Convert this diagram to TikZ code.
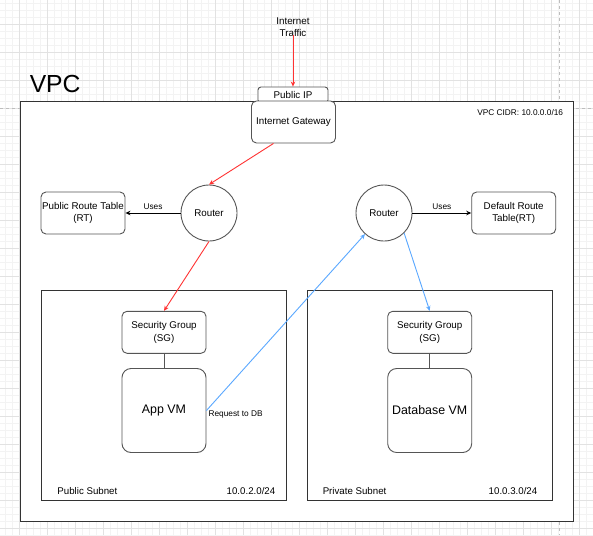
\documentclass[tikz,border=0pt]{standalone}
\usepackage{fontspec}
\setmainfont{Liberation Sans}
\usetikzlibrary{positioning, arrows.meta}

\definecolor{netred}{HTML}{FF3333}
\definecolor{netblue}{HTML}{5AA8FF}
\definecolor{boxgray}{HTML}{555555}
\definecolor{framegray}{HTML}{333333}
\definecolor{gridminor}{HTML}{F3F3F3}
\definecolor{gridmajor}{HTML}{E2E2E2}
\definecolor{pagebreak}{HTML}{BDBDBD}

\newcommand{\fsz}[1]{\fontsize{#1}{12.5}\selectfont}

\tikzset{
    rbox/.style={draw=boxgray, fill=white, rounded corners=5pt, minimum width=84pt, minimum height=42pt, inner sep=1pt, align=center, font=\fsz{9.8}},
    vmbox/.style={rbox, rounded corners=9pt, minimum height=84pt, font=\fsz{12.4}},
    router/.style={draw=boxgray, fill=white, circle, minimum size=56pt, inner sep=0pt, font=\fsz{9.8}},
    frame/.style={draw=framegray, fill=white, rectangle, inner sep=0pt},
    tag/.style={font=\fsz{8.3}, inner sep=0pt},
    redarrow/.style={netred, -{Stealth[length=5pt,width=4.5pt]}},
    bluearrow/.style={netblue, -{Stealth[length=5pt,width=4.5pt]}},
    usesarrow/.style={black, -{Stealth[length=5pt,width=4.5pt]}}
}

\begin{document}
\begin{tikzpicture}[x=1pt, y=-1pt, line width=0.9pt]
    \fill[white] (0,0) rectangle (593,535);
    \useasboundingbox (0,0) rectangle (593,535);

    % background grid
    \foreach \i in {0,...,84} \draw[gridminor, line width=0.6pt] (5.3+7*\i,0) -- (5.3+7*\i,535);
    \foreach \j in {0,...,76} \draw[gridminor, line width=0.6pt] (0,3+7*\j) -- (593,3+7*\j);
    \foreach \i in {0,...,20} \draw[gridmajor, line width=0.6pt] (19.3+28*\i,0) -- (19.3+28*\i,535);
    \foreach \j in {0,...,18} \draw[gridmajor, line width=0.6pt] (0,24+28*\j) -- (593,24+28*\j);
    \draw[pagebreak, line width=0.7pt, dash pattern=on 3pt off 3pt] (559.4,0) -- (559.4,535);
    \draw[pagebreak, line width=0.7pt, dash pattern=on 3pt off 3pt] (0,108.3) -- (593,108.3);

    \node[align=center, inner sep=0pt, font=\fsz{9.8}, text depth=0pt] (inet) at (293,27) {Internet\\Traffic};
    \node[rbox, rounded corners=3pt, minimum width=70pt, minimum height=16pt] (pubip) at (293,95) {Public IP};

    % VPC and subnets
    \node[frame, minimum width=553pt, minimum height=420pt] (vpc) at (296.5,311) {};
    \node[anchor=base west, inner sep=0pt, font=\fsz{24.7}] (vpclabel) at (29.3,92.5) {VPC};
    \node[tag, anchor=east] (cidr) at (563.5,112.3) {VPC CIDR: 10.0.0.0/16};

    \node[frame, minimum width=245.7pt, minimum height=210pt] (pubsub) at (163.8,395) {};
    \node[frame, minimum width=245pt, minimum height=210pt] (privsub) at (429.8,395) {};
    \node[anchor=west, inner sep=0pt, font=\fsz{9.7}] (pubname) at (57,490.7) {Public Subnet};
    \node[anchor=east, inner sep=0pt, font=\fsz{9.7}] (pubcidr) at (275.7,490.7) {10.0.2.0/24};
    \node[anchor=west, inner sep=0pt, font=\fsz{9.7}] (privname) at (322.3,490.7) {Private Subnet};
    \node[anchor=east, inner sep=0pt, font=\fsz{9.7}] (privcidr) at (537.7,490.7) {10.0.3.0/24};

    % gateway, routers, route tables
    \node[rbox] (igw) at (293.5,122) {Internet Gateway};
    \node[router] (rtpub) at (209,213) {Router};
    \node[router] (rtpriv) at (384,213) {Router};
    \node[rbox] (prt) at (83,213) {Public Route Table\\(RT)};
    \node[rbox] (drt) at (513.7,213) {Default Route\\Table(RT)};

    % security groups and VMs
    \node[rbox] (sgpub) at (164,332.3) {Security Group\\(SG)};
    \node[vmbox, below=14.3pt of sgpub] (appvm) {App VM};
    \node[rbox] (sgpriv) at (429.7,332.3) {Security Group\\(SG)};
    \node[vmbox, below=14.3pt of sgpriv] (dbvm) {Database VM};

    % connectors
    \draw[redarrow] (inet.south) ++(0,-2) -- (pubip.north);
    \draw[redarrow] ([xshift=-20pt]igw.south) -- (rtpub.north);
    \draw[redarrow] (rtpub.south) -- (sgpub.north);
    \draw[usesarrow] (rtpub.west) -- node[tag, above=2.5pt] {Uses} (prt.east);
    \draw[usesarrow] (rtpriv.east) -- node[tag, above=2.5pt] {Uses} (drt.west);
    \draw[boxgray] (sgpub.south) -- (appvm.north);
    \draw[boxgray] (sgpriv.south) -- (dbvm.north);
    \draw[bluearrow] (appvm.east) -- (rtpriv.228);
    \node[tag, anchor=west] (reqlabel) at ([xshift=1.7pt, yshift=-4.3pt]appvm.east) {Request to DB};
    \draw[bluearrow] (rtpriv.315) -- (sgpriv.north);
\end{tikzpicture}
\end{document}
